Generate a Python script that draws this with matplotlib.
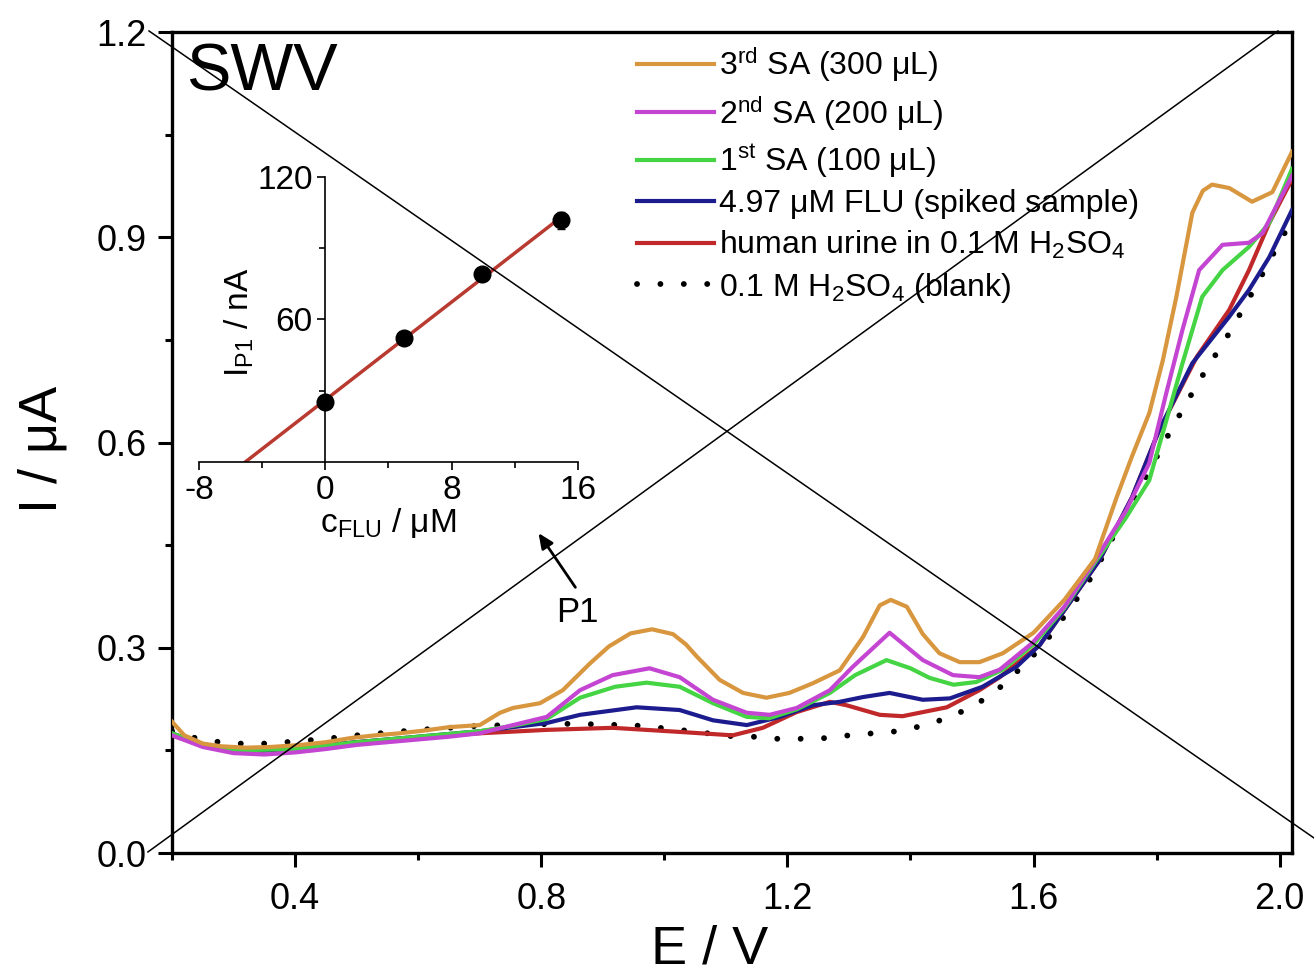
import numpy as np
import matplotlib
matplotlib.use('Agg')
import matplotlib.pyplot as plt
from matplotlib.lines import Line2D

plt.rcParams['font.family'] = ['Liberation Sans', 'DejaVu Sans']
plt.rcParams['mathtext.fontset'] = 'custom'
plt.rcParams['mathtext.rm'] = 'Liberation Sans'
plt.rcParams['mathtext.default'] = 'regular'
plt.rcParams['axes.unicode_minus'] = False

# ---- SWV curves (E / V, I / uA) ----
sa3_x = [0.20, 0.22, 0.25, 0.28, 0.32, 0.36, 0.41, 0.45, 0.49, 0.53, 0.57, 0.61, 0.65, 0.70, 0.733, 0.754,
         0.798, 0.835, 0.879, 0.91, 0.945, 0.98, 1.014, 1.035, 1.053, 1.09, 1.128, 1.166, 1.203, 1.241, 1.285,
         1.323, 1.35, 1.368, 1.394, 1.42, 1.447, 1.48, 1.512, 1.55, 1.60, 1.65, 1.70, 1.735, 1.76, 1.788,
         1.81, 1.832, 1.858, 1.875, 1.89, 1.918, 1.955, 1.988, 2.02]
sa3_y = [0.192, 0.172, 0.160, 0.156, 0.154, 0.155, 0.158, 0.162, 0.168, 0.172, 0.175, 0.179, 0.184, 0.187,
         0.205, 0.212, 0.219, 0.238, 0.277, 0.302, 0.321, 0.327, 0.320, 0.305, 0.287, 0.253, 0.234, 0.227,
         0.234, 0.248, 0.267, 0.316, 0.362, 0.370, 0.360, 0.320, 0.292, 0.279, 0.279, 0.292, 0.322, 0.370,
         0.430, 0.520, 0.580, 0.643, 0.720, 0.813, 0.936, 0.968, 0.977, 0.972, 0.952, 0.966, 1.025]

sa2_x = [0.20, 0.25, 0.30, 0.35, 0.40, 0.45, 0.50, 0.55, 0.60, 0.65, 0.70, 0.754, 0.809, 0.863, 0.916,
         0.976, 1.025, 1.079, 1.134, 1.171, 1.215, 1.269, 1.306, 1.366, 1.42, 1.469, 1.512, 1.545, 1.598,
         1.65, 1.70, 1.75, 1.788, 1.815, 1.842, 1.869, 1.907, 1.95, 1.972, 2.02]
sa2_y = [0.172, 0.155, 0.146, 0.144, 0.147, 0.152, 0.158, 0.162, 0.166, 0.170, 0.175, 0.187, 0.199, 0.238,
         0.260, 0.270, 0.257, 0.224, 0.205, 0.202, 0.212, 0.238, 0.272, 0.322, 0.282, 0.260, 0.257, 0.268,
         0.307, 0.360, 0.428, 0.500, 0.570, 0.670, 0.765, 0.852, 0.889, 0.892, 0.906, 0.990]

sa1_x = [0.20, 0.25, 0.30, 0.40, 0.50, 0.60, 0.70, 0.754, 0.809, 0.863, 0.92, 0.971, 1.025, 1.079, 1.134,
         1.17, 1.215, 1.269, 1.31, 1.361, 1.40, 1.431, 1.47, 1.507, 1.55, 1.60, 1.65, 1.70, 1.75, 1.788,
         1.815, 1.842, 1.874, 1.907, 1.95, 1.983, 2.02]
sa1_y = [0.175, 0.158, 0.150, 0.152, 0.162, 0.170, 0.178, 0.186, 0.196, 0.227, 0.243, 0.249, 0.243, 0.219,
         0.199, 0.197, 0.210, 0.234, 0.260, 0.282, 0.270, 0.256, 0.246, 0.250, 0.268, 0.305, 0.358, 0.425,
         0.490, 0.545, 0.630, 0.716, 0.813, 0.852, 0.886, 0.921, 1.000]

spiked_x = [0.20, 0.25, 0.30, 0.35, 0.40, 0.50, 0.60, 0.70, 0.754, 0.809, 0.863, 0.955, 1.025, 1.079, 1.134,
            1.188, 1.241, 1.285, 1.323, 1.366, 1.42, 1.464, 1.517, 1.572, 1.61, 1.654, 1.707, 1.76, 1.804,
            1.858, 1.918, 1.95, 1.983, 2.02]
spiked_y = [0.175, 0.158, 0.151, 0.150, 0.153, 0.162, 0.170, 0.178, 0.184, 0.190, 0.202, 0.213, 0.209, 0.194,
            0.187, 0.199, 0.216, 0.221, 0.228, 0.234, 0.224, 0.226, 0.243, 0.272, 0.304, 0.360, 0.428, 0.520,
            0.618, 0.716, 0.784, 0.823, 0.871, 0.940]

urine_x = [0.20, 0.25, 0.30, 0.35, 0.40, 0.50, 0.60, 0.70, 0.809, 0.916, 1.025, 1.111, 1.16, 1.215, 1.269,
           1.296, 1.35, 1.387, 1.459, 1.512, 1.545, 1.61, 1.654, 1.707, 1.76, 1.804, 1.865, 1.918, 1.95,
           1.983, 2.02]
urine_y = [0.172, 0.157, 0.150, 0.150, 0.153, 0.162, 0.169, 0.175, 0.180, 0.183, 0.177, 0.172, 0.183, 0.206,
           0.221, 0.216, 0.202, 0.200, 0.213, 0.238, 0.257, 0.304, 0.360, 0.428, 0.520, 0.618, 0.725, 0.794,
           0.852, 0.921, 0.985]

blank_x = [0.20, 0.25, 0.30, 0.35, 0.40, 0.45, 0.50, 0.55, 0.60, 0.65, 0.70, 0.75, 0.83, 0.90, 0.96, 1.025,
           1.106, 1.144, 1.183, 1.223, 1.263, 1.30, 1.339, 1.379, 1.42, 1.459, 1.499, 1.537, 1.574, 1.613,
           1.642, 1.670, 1.696, 1.74, 1.783, 1.823, 1.869, 1.918, 1.964, 2.004, 2.02]
blank_y = [0.178, 0.165, 0.160, 0.160, 0.163, 0.167, 0.172, 0.176, 0.180, 0.183, 0.186, 0.187, 0.189, 0.188,
           0.186, 0.180, 0.171, 0.170, 0.167, 0.167, 0.168, 0.172, 0.175, 0.178, 0.186, 0.197, 0.213, 0.235,
           0.266, 0.301, 0.336, 0.371, 0.406, 0.480, 0.550, 0.618, 0.690, 0.760, 0.833, 0.900, 0.925]

# ---- inset: calibration (standard additions) ----
conc = [0.0, 4.97, 9.94, 14.91]
ip1 = [25.2, 52.2, 78.9, 101.6]
ip1_err = [1.0, 1.2, 2.5, 3.5]

fig = plt.figure(figsize=(13.14, 9.77), dpi=100)
ax = fig.add_axes([0.1309, 0.1269, 0.8524, 0.8403])

lw = 3.0
ax.plot(blank_x, blank_y, color='black', lw=4.2, linestyle=(0, (0.01, 4.0)),
        dash_capstyle='round', label='0.1 M H$_2$SO$_4$ (blank)', zorder=2)
ax.plot(urine_x, urine_y, color='#C0282A', lw=lw, label='human urine in 0.1 M H$_2$SO$_4$', zorder=3)
ax.plot(spiked_x, spiked_y, color='#1C1C8E', lw=lw, label='4.97 μM FLU (spiked sample)', zorder=4)
ax.plot(sa1_x, sa1_y, color='#44D444', lw=lw, label='1$^{st}$ SA (100 μL)', zorder=5)
ax.plot(sa2_x, sa2_y, color='#C445D2', lw=lw, label='2$^{nd}$ SA (200 μL)', zorder=6)
ax.plot(sa3_x, sa3_y, color='#D8963F', lw=lw, label='3$^{rd}$ SA (300 μL)', zorder=7)

ax.set_xlim(0.2, 2.02)
ax.set_ylim(0.0, 1.2)
ax.set_xticks([0.4, 0.8, 1.2, 1.6, 2.0])
ax.set_xticks([0.2, 0.6, 1.0, 1.4, 1.8], minor=True)
ax.set_yticks([0.0, 0.3, 0.6, 0.9, 1.2])
ax.set_yticks([0.15, 0.45, 0.75, 1.05], minor=True)
ax.tick_params(which='major', direction='out', length=10, width=2.2, labelsize=26, pad=8)
ax.tick_params(which='minor', direction='out', length=5, width=2.2)
ax.tick_params(axis='x', which='major', pad=11)
for s in ax.spines.values():
    s.set_linewidth(2.4)

fig.text(0.54, 0.028, 'E / V', fontsize=39, ha='center', va='center')
fig.text(0.032, 0.54, 'I / μA', fontsize=39, ha='center', va='center', rotation=90)
ax.text(0.222, 1.184, 'SWV', fontsize=48, ha='left', va='top')

handles, labels = ax.get_legend_handles_labels()
ax.legend(handles[::-1], labels[::-1], loc='upper left', bbox_to_anchor=(0.485, 0.954),
          bbox_transform=fig.transFigure, frameon=False, fontsize=23, handlelength=2.4,
          handletextpad=0.15, labelspacing=0.3, borderpad=0, borderaxespad=0)

ax.annotate('', xy=(0.793, 0.471), xytext=(0.858, 0.385),
            arrowprops=dict(arrowstyle='-|>,head_length=0.9,head_width=0.4', color='black', lw=2))
ax.text(0.859, 0.351, 'P1', fontsize=25, ha='center', va='center')

# inset
ins = fig.add_axes([0.1514, 0.5271, 0.2884, 0.292])
ins.patch.set_alpha(0)
slope, icept = np.polyfit(conc, ip1, 1)
fit_x = np.array([-icept / slope, max(conc)])
ins.plot(fit_x, slope * fit_x + icept, color='#B83A30', lw=2.5, zorder=2)
ins.errorbar(conc, ip1, yerr=ip1_err, fmt='o', color='black', ms=12, capsize=3, elinewidth=1.2, zorder=3)
ins.set_xlim(-8, 16)
ins.set_ylim(0, 120)
ins.spines['left'].set_position(('data', 0))
ins.spines['top'].set_visible(False)
ins.spines['right'].set_visible(False)
for s in ['left', 'bottom']:
    ins.spines[s].set_linewidth(1.2)
ins.set_xticks([-8, 0, 8, 16])
ins.set_xticks([-4, 4, 12], minor=True)
ins.set_yticks([60, 120])
ins.set_yticks([30, 90], minor=True)
ins.tick_params(which='major', direction='out', length=6, width=1.2, labelsize=24, pad=3)
ins.tick_params(which='minor', direction='out', length=4, width=1.2)
ins.set_xlabel('c$_{FLU}$ / μM', fontsize=24, labelpad=0)
ins.set_ylabel('I$_{P1}$ / nA', fontsize=24)
ins.yaxis.set_label_coords(0.15, 0.49)

# the cross drawn over the figure
fig.add_artist(Line2D([0.1134, 1.0], [0.9683, 0.1423], transform=fig.transFigure, color='black', lw=1.1))
fig.add_artist(Line2D([0.1126, 0.9726], [0.128, 0.9683], transform=fig.transFigure, color='black', lw=1.1))

fig.savefig('out.png', dpi=100)
